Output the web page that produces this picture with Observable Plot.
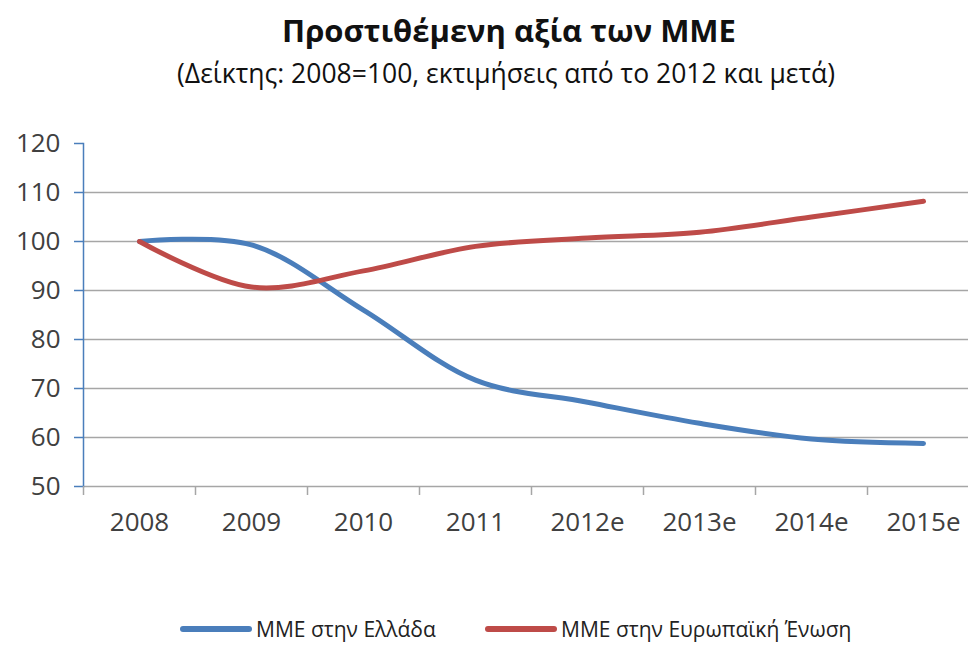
<!DOCTYPE html>
<html>
<head>
<meta charset="utf-8">
<script src="https://cdn.jsdelivr.net/npm/d3@7"></script>
<script src="https://cdn.jsdelivr.net/npm/@observablehq/plot@0.6"></script>
<style>
  html, body { margin: 0; padding: 0; background: #fff; }
  body { width: 968px; height: 648px; position: relative; overflow: hidden; font-family: "Open Sans", sans-serif; color: #000; }
  #title { position: absolute; left: 50px; width: 918px; top: 9px; text-align: center; font-weight: bold; font-size: 31px; line-height: 42px; color: #111; }
  #subtitle { position: absolute; left: 44px; width: 924px; top: 55px; text-align: center; font-size: 26.5px; line-height: 36px; color: #111; }
  #chart { position: absolute; left: 0; top: 110px; }
  #legend { position: absolute; left: 0; top: 615px; width: 968px; font-size: 21px; line-height: 28px; color: #222; }
  .item { position: absolute; top: 0; white-space: nowrap; }
  .sw { display: inline-block; width: 72px; height: 6px; border-radius: 3px; vertical-align: middle; margin-right: 4px; position: relative; top: -2px; }
</style>
</head>
<body>
<div id="title"></div>
<div id="subtitle"></div>
<div id="chart"></div>
<div id="legend"></div>
<script>
const titleText = "Προστιθέμενη αξία των ΜΜΕ";
const subtitleText = "(Δείκτης: 2008=100, εκτιμήσεις από το 2012 και μετά)";
const years = ["2008", "2009", "2010", "2011", "2012e", "2013e", "2014e", "2015e"];
const greece = [100, 99.3, 86, 71.7, 67.2, 62.9, 59.7, 58.8];
const eu = [100, 90.7, 94, 99, 100.7, 101.9, 105, 108.2];
const seriesNames = ["ΜΜΕ στην Ελλάδα", "ΜΜΕ στην Ευρωπαϊκή Ένωση"];
const seriesColors = ["#4a7ebb", "#be4b48"];
const yTicks = [50, 60, 70, 80, 90, 100, 110, 120];
const gridValues = [50, 60, 70, 80, 90, 100, 110];

document.getElementById("title").textContent = titleText;
document.getElementById("subtitle").textContent = subtitleText;

const rows = [];
years.forEach((y, i) => rows.push({year: y, value: greece[i], series: seriesNames[0]}));
years.forEach((y, i) => rows.push({year: y, value: eu[i], series: seriesNames[1]}));

const W = 968, H = 440, ML = 83, MT = 33, MB = 64;
const xRange = [ML, 979];
const bw = (xRange[1] - xRange[0]) / years.length;

const chart = Plot.plot({
  width: W,
  height: H,
  marginLeft: ML,
  marginRight: 0,
  marginTop: MT,
  marginBottom: MB,
  style: {fontFamily: "'Open Sans', sans-serif", background: "white"},
  x: {type: "band", domain: years, range: xRange, padding: 0, label: null},
  y: {domain: [50, 120], label: null},
  color: {domain: seriesNames, range: seriesColors},
  marks: [
    Plot.ruleY(gridValues, {stroke: "#a6a6a6", strokeWidth: 1.5}),
    Plot.frame({anchor: "left", stroke: "#4a7ebb", strokeWidth: 1.5}),
    Plot.axisY({ticks: yTicks, tickSize: 9, tickPadding: 14, stroke: "#4a7ebb", strokeWidth: 1.5, fill: "#404040", fontSize: 26, label: null}),
    Plot.axisX({tickSize: 9, tickFormat: () => "", dx: -bw / 2, stroke: "#a6a6a6", strokeWidth: 1.5, label: null}),
    Plot.axisX({tickSize: 0, tickPadding: 26, fill: "#404040", fontSize: 26, label: null}),
    Plot.line(rows, {x: "year", y: "value", z: "series", stroke: "series", strokeWidth: 5, curve: "catmull-rom", strokeLinecap: "round"})
  ]
});
document.getElementById("chart").appendChild(chart);

const legend = document.getElementById("legend");
const lx = [180, 485];
seriesNames.forEach((n, i) => {
  const it = document.createElement("div");
  it.className = "item";
  it.style.left = lx[i] + "px";
  const sw = document.createElement("span");
  sw.className = "sw";
  sw.style.background = seriesColors[i];
  it.appendChild(sw);
  it.appendChild(document.createTextNode(n));
  legend.appendChild(it);
});
</script>
</body>
</html>
